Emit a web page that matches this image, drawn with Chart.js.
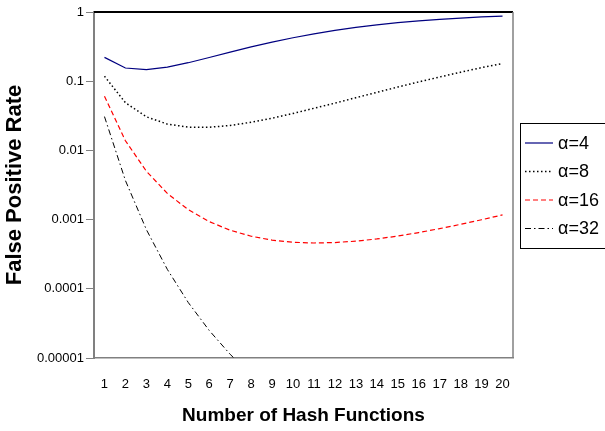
<!DOCTYPE html>
<html>
<head>
<meta charset="utf-8">
<script src="https://cdn.jsdelivr.net/npm/chart.js@4.4.0/dist/chart.umd.min.js"></script>
<style>
  html, body { margin: 0; padding: 0; background: #fff; }
</style>
</head>
<body>
<canvas id="chart" width="605" height="431"></canvas>
<script>
// number of hash functions (x categories)
const hashCounts = ['1','2','3','4','5','6','7','8','9','10','11','12','13','14','15','16','17','18','19','20'];

// false positive rate
const alpha4 = [0.221, 0.155, 0.147, 0.160, 0.185, 0.220, 0.263, 0.313, 0.367, 0.425, 0.484, 0.542, 0.598, 0.651, 0.700, 0.744, 0.783, 0.818, 0.848, 0.874];
const alpha8 = [0.118, 0.0489, 0.0306, 0.0240, 0.0217, 0.0216, 0.0229, 0.0255, 0.0292, 0.0342, 0.0406, 0.0482, 0.0578, 0.0690, 0.0823, 0.0977, 0.115, 0.135, 0.157, 0.180];
const alpha16 = [0.0606, 0.0138, 0.0050, 0.00239, 0.00139, 0.000935, 0.000702, 0.000575, 0.000505, 0.000470, 0.000459, 0.000466, 0.000488, 0.000525, 0.000579, 0.000650, 0.000740, 0.000854, 0.000995, 0.00117];
const alpha32 = [0.0308, 0.00367, 0.000717, 0.000191, 0.0000633, 0.0000250, 0.0000113, 0.0000057, null, null, null, null, null, null, null, null, null, null, null, null];

const seriesLabels = ['\u03b1=4', '\u03b1=8', '\u03b1=16', '\u03b1=32'];

const yTickValues = [1, 0.1, 0.01, 0.001, 0.0001, 0.00001];
const yTickLabels = ['1', '0.1', '0.01', '0.001', '0.0001', '0.00001'];

const FONT = 'Liberation Sans, Arial, Helvetica, sans-serif';

// top and right edges of the plot area
const framePlugin = {
  id: 'frame',
  afterDraw(chart) {
    const { ctx, chartArea: a } = chart;
    ctx.save();
    ctx.strokeStyle = '#000';
    ctx.lineWidth = 2;
    ctx.beginPath();
    ctx.moveTo(a.left, a.top);
    ctx.lineTo(a.right, a.top);
    ctx.stroke();
    ctx.strokeStyle = '#808080';
    ctx.lineWidth = 1.5;
    ctx.beginPath();
    ctx.moveTo(a.right, a.top);
    ctx.lineTo(a.right, a.bottom);
    ctx.stroke();
    ctx.restore();
  }
};

// boxed legend at the right, partly cut off like the original
const boxLegend = {
  id: 'boxLegend',
  afterDraw(chart) {
    const ctx = chart.ctx;
    const x = 520.5, y = 123.5, w = 100, h = 125;
    ctx.save();
    ctx.strokeStyle = '#000';
    ctx.lineWidth = 1;
    ctx.strokeRect(x, y, w, h);
    ctx.font = '18px ' + FONT;
    ctx.textBaseline = 'middle';
    ctx.fillStyle = '#000';
    chart.data.datasets.forEach((ds, i) => {
      const cy = 143 + i * 28.5;
      ctx.strokeStyle = ds.borderColor;
      ctx.lineWidth = ds.borderWidth;
      ctx.setLineDash(ds.borderDash || []);
      ctx.beginPath();
      ctx.moveTo(525, cy);
      ctx.lineTo(553, cy);
      ctx.stroke();
      ctx.setLineDash([]);
      ctx.fillText(ds.label, 558, cy + 1);
    });
    ctx.restore();
  }
};

const lineStyle = { pointRadius: 0, fill: false, tension: 0, spanGaps: false };

new Chart(document.getElementById('chart'), {
  type: 'line',
  data: {
    labels: hashCounts,
    datasets: [
      { label: seriesLabels[0], data: alpha4, borderColor: '#000080', borderWidth: 1.2, ...lineStyle },
      { label: seriesLabels[1], data: alpha8, borderColor: '#000000', borderWidth: 1.5, borderDash: [1.5, 2.5], ...lineStyle },
      { label: seriesLabels[2], data: alpha16, borderColor: '#ff0000', borderWidth: 1.2, borderDash: [5, 3], ...lineStyle },
      { label: seriesLabels[3], data: alpha32, borderColor: '#000000', borderWidth: 1, borderDash: [6, 3, 1.5, 3], ...lineStyle }
    ]
  },
  options: {
    responsive: false,
    animation: false,
    layout: { padding: { top: 12, right: 92, left: 0, bottom: 0 } },
    plugins: {
      legend: { display: false },
      tooltip: { enabled: false }
    },
    scales: {
      x: {
        offset: true,
        grid: { display: false },
        border: { color: '#808080', width: 1.5 },
        afterFit: (s) => { s.height = 73; },
        ticks: {
          autoSkip: false,
          maxRotation: 0,
          color: '#000',
          padding: 11,
          font: { family: FONT, size: 13 }
        },
        title: {
          display: true,
          text: 'Number of Hash Functions',
          color: '#000',
          font: { family: FONT, size: 19, weight: 'bold' },
          padding: { top: 0, bottom: 4 }
        }
      },
      y: {
        type: 'logarithmic',
        min: 0.00001,
        max: 1,
        afterBuildTicks: (s) => { s.ticks = yTickValues.map((v) => ({ value: v })); },
        afterFit: (s) => { s.width = 94; },
        grid: { drawOnChartArea: false, tickLength: 8, color: '#808080', lineWidth: 1 },
        border: { color: '#808080', width: 2 },
        ticks: {
          color: '#000',
          padding: 2,
          font: { family: FONT, size: 13 },
          callback: (v) => {
            const i = yTickValues.findIndex((t) => Math.abs(t - v) < t * 1e-6);
            return i >= 0 ? yTickLabels[i] : '';
          }
        },
        title: {
          display: true,
          text: 'False Positive Rate',
          color: '#000',
          font: { family: FONT, size: 22, weight: 'bold' },
          padding: { top: 2, bottom: 0 }
        }
      }
    }
  },
  plugins: [framePlugin, boxLegend]
});
</script>
</body>
</html>
